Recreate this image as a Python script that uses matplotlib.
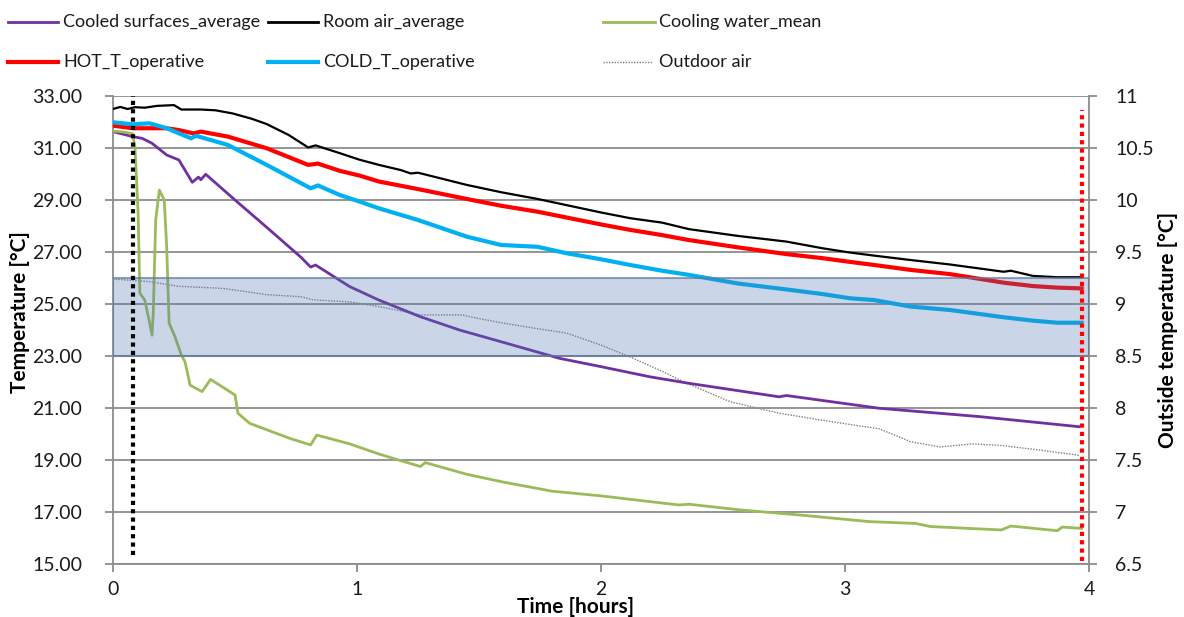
import matplotlib
matplotlib.use("Agg")
import numpy as np
import matplotlib.pyplot as plt
from matplotlib.lines import Line2D
from matplotlib.ticker import FixedLocator, FormatStrFormatter, FuncFormatter, MultipleLocator

plt.rcParams['font.family'] = ['Lato', 'DejaVu Sans']

# ---- measured series (time in hours) ----
room_air_t = [0.00, 0.03, 0.06, 0.09, 0.13, 0.18, 0.25, 0.28, 0.36, 0.42, 0.49, 0.57,
              0.63, 0.72, 0.80, 0.83, 0.93, 1.01, 1.09, 1.18, 1.22, 1.25, 1.45, 1.59,
              1.74, 1.86, 2.00, 2.12, 2.25, 2.36, 2.56, 2.76, 2.91, 3.02, 3.12, 3.27,
              3.43, 3.65, 3.68, 3.77, 3.87, 3.97]
room_air = [32.50, 32.58, 32.50, 32.57, 32.55, 32.62, 32.65, 32.48, 32.48, 32.45, 32.33, 32.12,
            31.92, 31.50, 31.02, 31.10, 30.80, 30.55, 30.35, 30.15, 30.02, 30.05, 29.58, 29.30,
            29.04, 28.80, 28.52, 28.30, 28.13, 27.88, 27.62, 27.40, 27.14, 26.98, 26.86, 26.69,
            26.52, 26.24, 26.28, 26.08, 26.03, 26.03]

hot_t = [0.00, 0.08, 0.22, 0.27, 0.33, 0.36, 0.47, 0.63, 0.80, 0.84, 0.93, 1.01, 1.09,
         1.25, 1.45, 1.59, 1.74, 2.00, 2.12, 2.25, 2.36, 2.56, 2.76, 2.91, 3.02, 3.12,
         3.27, 3.43, 3.65, 3.77, 3.87, 3.97]
hot_op = [31.86, 31.76, 31.76, 31.69, 31.56, 31.63, 31.44, 30.99, 30.35, 30.40, 30.12, 29.94, 29.71,
          29.42, 29.04, 28.78, 28.55, 28.06, 27.85, 27.65, 27.46, 27.18, 26.92, 26.76, 26.62, 26.50,
          26.31, 26.15, 25.82, 25.69, 25.63, 25.60]

cold_t = [0.00, 0.08, 0.15, 0.22, 0.32, 0.34, 0.47, 0.63, 0.81, 0.84, 0.93, 1.01, 1.09,
          1.25, 1.45, 1.59, 1.74, 1.86, 2.00, 2.12, 2.25, 2.36, 2.56, 2.76, 2.91, 3.02,
          3.12, 3.27, 3.43, 3.65, 3.77, 3.87, 3.97]
cold_op = [31.99, 31.91, 31.95, 31.76, 31.37, 31.47, 31.12, 30.35, 29.45, 29.56, 29.19, 28.94, 28.68,
           28.23, 27.59, 27.27, 27.20, 26.95, 26.72, 26.50, 26.28, 26.12, 25.79, 25.56, 25.38, 25.22,
           25.15, 24.90, 24.77, 24.49, 24.36, 24.28, 24.28]

surf_t = [0.00, 0.08, 0.12, 0.16, 0.22, 0.27, 0.325, 0.35, 0.36, 0.38, 0.50, 0.63, 0.77,
          0.81, 0.83, 0.97, 1.09, 1.26, 1.42, 1.59, 1.71, 1.83, 2.00, 2.20, 2.36, 2.73,
          2.76, 3.14, 3.55, 3.96]
surf_avg = [31.63, 31.44, 31.37, 31.18, 30.73, 30.54, 29.68, 29.88, 29.78, 29.99, 29.00, 27.95, 26.80,
            26.42, 26.50, 25.67, 25.15, 24.51, 24.00, 23.55, 23.23, 22.91, 22.59, 22.20, 21.95, 21.43,
            21.48, 20.99, 20.67, 20.28]

water_t = [0.00, 0.04, 0.08, 0.09, 0.103, 0.11, 0.13, 0.145, 0.16, 0.165, 0.175, 0.19, 0.21,
           0.22, 0.23, 0.254, 0.28, 0.295, 0.316, 0.365, 0.40, 0.50, 0.512, 0.56, 0.725, 0.81,
           0.835, 0.97, 1.09, 1.17, 1.26, 1.28, 1.45, 1.60, 1.80, 2.00, 2.20, 2.32, 2.36, 2.57,
           2.82, 3.10, 3.29, 3.35, 3.64, 3.68, 3.87, 3.89, 3.97]
water_mean = [31.65, 31.62, 31.55, 31.05, 28.50, 25.42, 25.15, 24.51, 23.80, 24.65, 28.23, 29.38, 29.00,
              27.20, 24.27, 23.74, 23.04, 22.78, 21.88, 21.63, 22.10, 21.50, 20.80, 20.41, 19.83, 19.58,
              19.96, 19.62, 19.23, 19.00, 18.75, 18.90, 18.45, 18.15, 17.80, 17.62, 17.40, 17.27, 17.30, 17.08,
              16.88, 16.63, 16.56, 16.44, 16.31, 16.46, 16.28, 16.42, 16.37]

# outdoor air is read on the secondary axis
outdoor_t = [0.00, 0.15, 0.27, 0.45, 0.63, 0.77, 0.82, 0.97, 1.09, 1.26, 1.43, 1.50, 1.59,
             1.72, 1.86, 2.00, 2.12, 2.24, 2.34, 2.53, 2.73, 2.94, 3.14, 3.27, 3.39, 3.52,
             3.64, 3.80, 3.96]
outdoor = [9.24, 9.215, 9.17, 9.15, 9.09, 9.07, 9.04, 9.02, 8.975, 8.895, 8.895, 8.86, 8.82,
           8.77, 8.72, 8.605, 8.49, 8.365, 8.25, 8.06, 7.95, 7.87, 7.80, 7.675, 7.625, 7.655,
           7.64, 7.595, 7.545]

# comfort band and start/stop markers
comfort_band = (23.0, 26.0)
start_marker = (0.083, 15.35, 33.0)
stop_marker = (3.97, 15.1, 32.45)

left_ticks = np.arange(15, 34, 2)
right_ticks = np.arange(6.5, 11.01, 0.5)

W, H = 1184, 617
fig = plt.figure(figsize=(W / 100, H / 100), dpi=100)
ax = fig.add_axes([113 / W, 1 - 564 / H, (1089 - 113) / W, (564 - 96) / H])
ax2 = ax.twinx()
ax.set_zorder(ax2.get_zorder() + 1)
ax.patch.set_visible(False)

grid_c = '#8c8c8c'
txt_c = '#1a1a1a'

ax2.plot(outdoor_t, outdoor, color='#7f7f7f', lw=1.0, ls=(0, (1, 1)))

ax.plot(surf_t, surf_avg, color='#7030A0', lw=2.0, zorder=3)
ax.plot(room_air_t, room_air, color='black', lw=1.6, zorder=3)
ax.plot(water_t, water_mean, color='#9BBB59', lw=2.0, zorder=3)
ax.plot(hot_t, hot_op, color='#FF0000', lw=3.0, zorder=3)
ax.plot(cold_t, cold_op, color='#00B0F0', lw=3.0, zorder=3)

ax.axhspan(comfort_band[0], comfort_band[1], facecolor=(0.29, 0.46, 0.70, 0.29),
           edgecolor=(0.38, 0.48, 0.62, 0.7), lw=1.5, zorder=4)

ax.vlines(start_marker[0], start_marker[1], start_marker[2], color='black', lw=3.0,
          linestyles=(0, (1, 1)), zorder=5)
ax.vlines(stop_marker[0], stop_marker[1], stop_marker[2], color='#FF0000', lw=3.0,
          linestyles=(0, (1, 1)), zorder=5)

ax.set_xlim(0, 4)
ax.set_ylim(15, 33)
ax2.set_ylim(6.5, 11)
ax.xaxis.set_major_locator(MultipleLocator(1))
ax.yaxis.set_major_locator(FixedLocator(left_ticks))
ax2.yaxis.set_major_locator(FixedLocator(right_ticks))
ax.yaxis.set_major_formatter(FormatStrFormatter('%.2f'))
ax2.yaxis.set_major_formatter(FuncFormatter(lambda v, p: f'{v:g}'))

ax.grid(axis='y', color=grid_c, lw=1.3, zorder=1)
ax.set_axisbelow(True)

for a in (ax, ax2):
    for s in a.spines.values():
        s.set_visible(False)
ax.spines['left'].set_visible(True)
ax.spines['bottom'].set_visible(True)
ax2.spines['right'].set_visible(True)
for s in (ax.spines['left'], ax.spines['bottom'], ax2.spines['right']):
    s.set_color(grid_c)
    s.set_linewidth(1.3)

tick_font = 14
ax.tick_params(axis='both', colors=grid_c, length=6, width=1.3, labelcolor=txt_c,
               labelsize=tick_font)
ax.tick_params(axis='y', pad=16)
ax.tick_params(axis='x', pad=6)
ax2.tick_params(axis='y', colors=grid_c, length=6, width=1.3, labelcolor=txt_c,
                labelsize=tick_font, pad=13)

lab_kw = dict(fontsize=15, fontweight='bold', color='black')
fig.text(20 / W, 1 - 312 / H, 'Temperature [°C]', rotation=90, ha='center', va='center', **lab_kw)
fig.text(1168 / W, 1 - 330 / H, 'Outside temperature [°C]', rotation=90, ha='center',
         va='center', **lab_kw)
fig.text(576 / W, 1 - 607 / H, 'Time [hours]', ha='center', va='center', **lab_kw)

# legend, laid out in two rows of three
legend_entries = [
    ('Cooled surfaces_average', dict(color='#7030A0', lw=2.0), 8, 58, 63, 22),
    ('Room air_average', dict(color='black', lw=2.0), 268, 318, 323, 22),
    ('Cooling water_mean', dict(color='#9BBB59', lw=2.0), 603, 655, 659, 22),
    ('HOT_T_operative', dict(color='#FF0000', lw=3.0), 8, 58, 63, 62),
    ('COLD_T_operative', dict(color='#00B0F0', lw=3.0), 268, 318, 323, 62),
    ('Outdoor air', dict(color='#7f7f7f', lw=1.0, ls=(0, (1, 1))), 603, 652, 659, 62),
]
for label, style, x0, x1, xt, y in legend_entries:
    fig.add_artist(Line2D([x0 / W, x1 / W], [1 - y / H, 1 - y / H],
                          transform=fig.transFigure, **style))
    fig.text(xt / W, 1 - y / H, label, ha='left', va='center', fontsize=13, color=txt_c)

fig.savefig('out.png', dpi=100)
